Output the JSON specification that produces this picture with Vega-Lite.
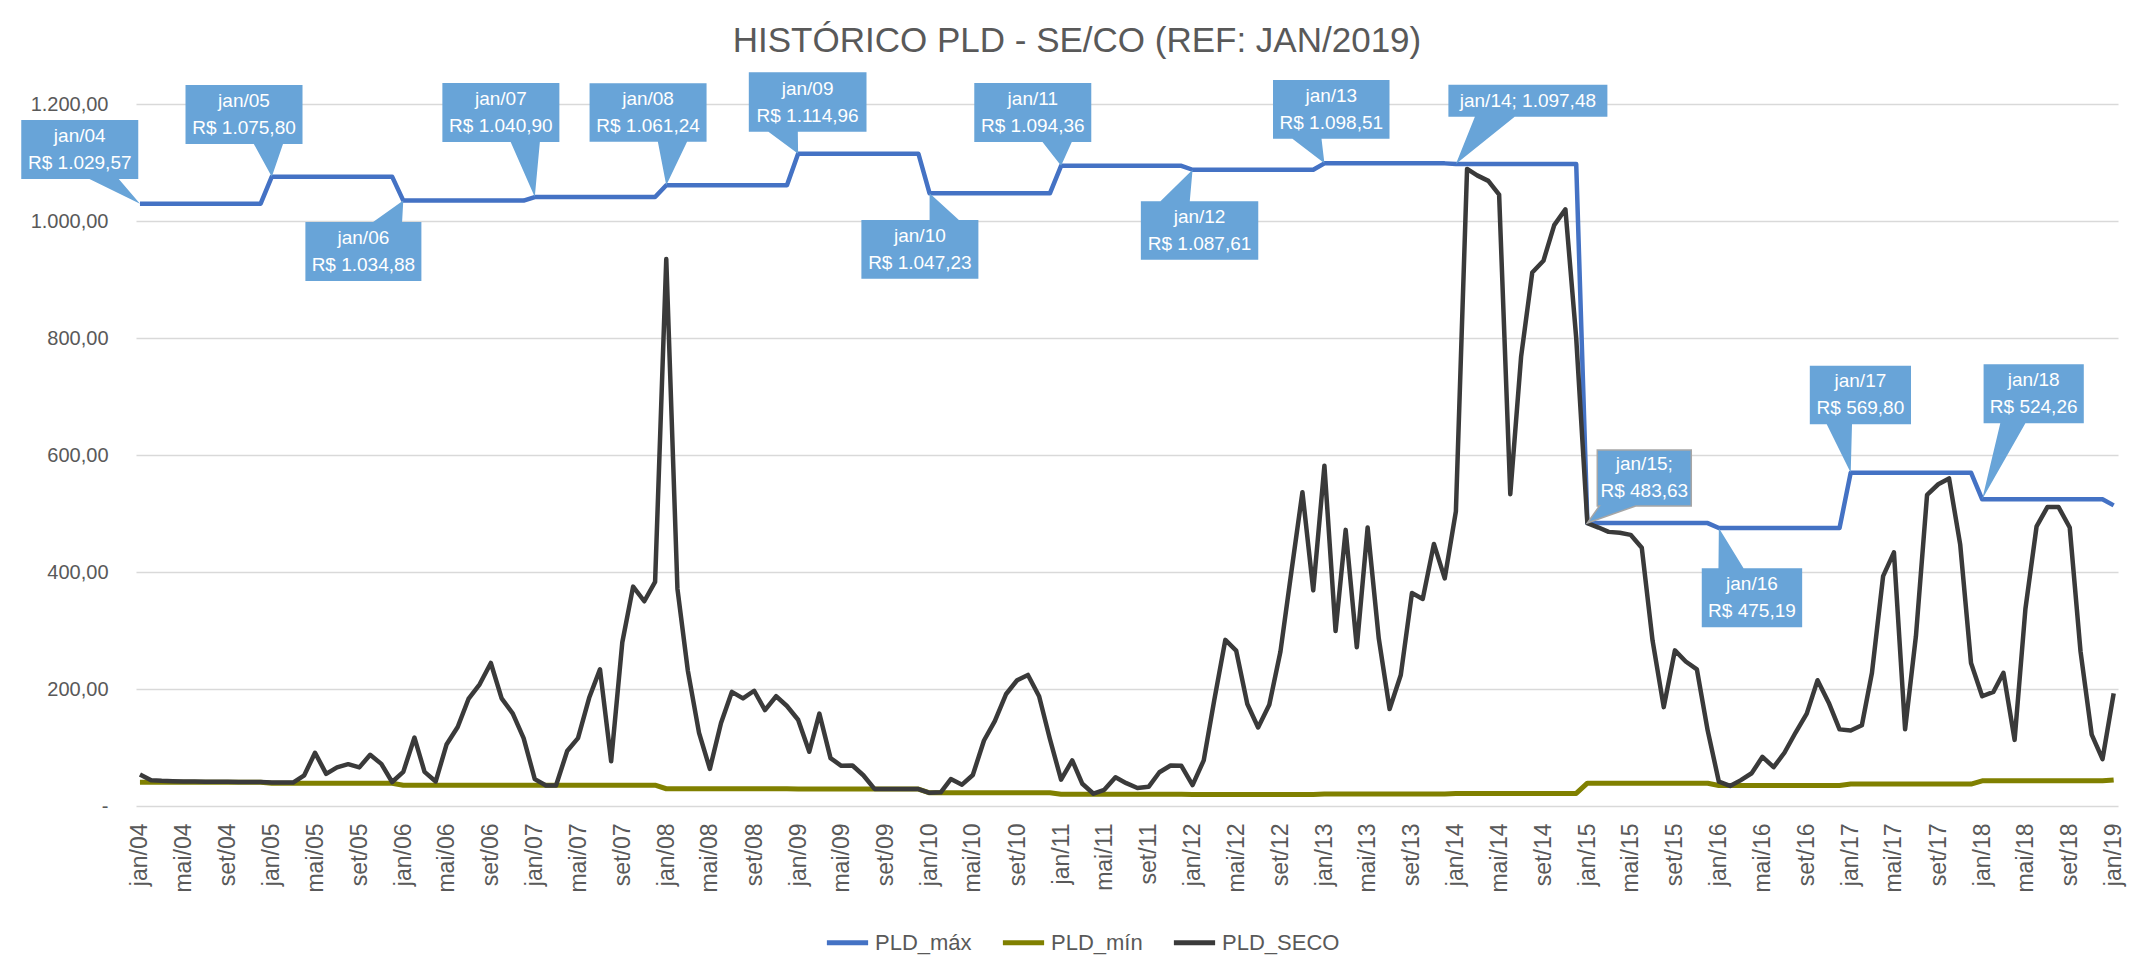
{
  "$schema": "https://vega.github.io/schema/vega-lite/v6.json",
  "width": 1982,
  "height": 702,
  "autosize": {"type": "none"},
  "padding": {"left": 136, "top": 104, "right": 13, "bottom": 158},
  "background": "white",
  "title": {"text": "HISTÓRICO PLD - SE/CO  (REF: JAN/2019)", "anchor": "middle", "frame": "group", "dx": -50, "offset": 10, "font": "Liberation Sans, Arial, sans-serif", "fontSize": 35, "fontWeight": "normal", "color": "#595959"},
  "config": {
    "view": {"stroke": null},
    "locale": {
      "number": {"decimal": ",", "thousands": ".", "grouping": [3], "currency": ["R$ ", ""]},
      "time": {
        "dateTime": "%A, %e de %B de %Y. %X",
        "date": "%d/%m/%Y",
        "time": "%H:%M:%S",
        "periods": ["AM", "PM"],
        "days": ["Domingo", "Segunda", "Terça", "Quarta", "Quinta", "Sexta", "Sábado"],
        "shortDays": ["Dom", "Seg", "Ter", "Qua", "Qui", "Sex", "Sáb"],
        "months": ["Janeiro", "Fevereiro", "Março", "Abril", "Maio", "Junho", "Julho", "Agosto", "Setembro", "Outubro", "Novembro", "Dezembro"],
        "shortMonths": ["jan", "fev", "mar", "abr", "mai", "jun", "jul", "ago", "set", "out", "nov", "dez"]
      }
    }
  },
  "datasets": {
    "max": [
      {"d":"2004/01/01","v":1029.57},{"d":"2004/02/01","v":1029.57},{"d":"2004/03/01","v":1029.57},{"d":"2004/04/01","v":1029.57},{"d":"2004/05/01","v":1029.57},{"d":"2004/06/01","v":1029.57},{"d":"2004/07/01","v":1029.57},{"d":"2004/08/01","v":1029.57},{"d":"2004/09/01","v":1029.57},{"d":"2004/10/01","v":1029.57},{"d":"2004/11/01","v":1029.57},{"d":"2004/12/01","v":1029.57},
      {"d":"2005/01/01","v":1075.8},{"d":"2005/02/01","v":1075.8},{"d":"2005/03/01","v":1075.8},{"d":"2005/04/01","v":1075.8},{"d":"2005/05/01","v":1075.8},{"d":"2005/06/01","v":1075.8},{"d":"2005/07/01","v":1075.8},{"d":"2005/08/01","v":1075.8},{"d":"2005/09/01","v":1075.8},{"d":"2005/10/01","v":1075.8},{"d":"2005/11/01","v":1075.8},{"d":"2005/12/01","v":1075.8},
      {"d":"2006/01/01","v":1034.88},{"d":"2006/02/01","v":1034.88},{"d":"2006/03/01","v":1034.88},{"d":"2006/04/01","v":1034.88},{"d":"2006/05/01","v":1034.88},{"d":"2006/06/01","v":1034.88},{"d":"2006/07/01","v":1034.88},{"d":"2006/08/01","v":1034.88},{"d":"2006/09/01","v":1034.88},{"d":"2006/10/01","v":1034.88},{"d":"2006/11/01","v":1034.88},{"d":"2006/12/01","v":1034.88},
      {"d":"2007/01/01","v":1040.9},{"d":"2007/02/01","v":1040.9},{"d":"2007/03/01","v":1040.9},{"d":"2007/04/01","v":1040.9},{"d":"2007/05/01","v":1040.9},{"d":"2007/06/01","v":1040.9},{"d":"2007/07/01","v":1040.9},{"d":"2007/08/01","v":1040.9},{"d":"2007/09/01","v":1040.9},{"d":"2007/10/01","v":1040.9},{"d":"2007/11/01","v":1040.9},{"d":"2007/12/01","v":1040.9},
      {"d":"2008/01/01","v":1061.24},{"d":"2008/02/01","v":1061.24},{"d":"2008/03/01","v":1061.24},{"d":"2008/04/01","v":1061.24},{"d":"2008/05/01","v":1061.24},{"d":"2008/06/01","v":1061.24},{"d":"2008/07/01","v":1061.24},{"d":"2008/08/01","v":1061.24},{"d":"2008/09/01","v":1061.24},{"d":"2008/10/01","v":1061.24},{"d":"2008/11/01","v":1061.24},{"d":"2008/12/01","v":1061.24},
      {"d":"2009/01/01","v":1114.96},{"d":"2009/02/01","v":1114.96},{"d":"2009/03/01","v":1114.96},{"d":"2009/04/01","v":1114.96},{"d":"2009/05/01","v":1114.96},{"d":"2009/06/01","v":1114.96},{"d":"2009/07/01","v":1114.96},{"d":"2009/08/01","v":1114.96},{"d":"2009/09/01","v":1114.96},{"d":"2009/10/01","v":1114.96},{"d":"2009/11/01","v":1114.96},{"d":"2009/12/01","v":1114.96},
      {"d":"2010/01/01","v":1047.23},{"d":"2010/02/01","v":1047.23},{"d":"2010/03/01","v":1047.23},{"d":"2010/04/01","v":1047.23},{"d":"2010/05/01","v":1047.23},{"d":"2010/06/01","v":1047.23},{"d":"2010/07/01","v":1047.23},{"d":"2010/08/01","v":1047.23},{"d":"2010/09/01","v":1047.23},{"d":"2010/10/01","v":1047.23},{"d":"2010/11/01","v":1047.23},{"d":"2010/12/01","v":1047.23},
      {"d":"2011/01/01","v":1094.36},{"d":"2011/02/01","v":1094.36},{"d":"2011/03/01","v":1094.36},{"d":"2011/04/01","v":1094.36},{"d":"2011/05/01","v":1094.36},{"d":"2011/06/01","v":1094.36},{"d":"2011/07/01","v":1094.36},{"d":"2011/08/01","v":1094.36},{"d":"2011/09/01","v":1094.36},{"d":"2011/10/01","v":1094.36},{"d":"2011/11/01","v":1094.36},{"d":"2011/12/01","v":1094.36},
      {"d":"2012/01/01","v":1087.61},{"d":"2012/02/01","v":1087.61},{"d":"2012/03/01","v":1087.61},{"d":"2012/04/01","v":1087.61},{"d":"2012/05/01","v":1087.61},{"d":"2012/06/01","v":1087.61},{"d":"2012/07/01","v":1087.61},{"d":"2012/08/01","v":1087.61},{"d":"2012/09/01","v":1087.61},{"d":"2012/10/01","v":1087.61},{"d":"2012/11/01","v":1087.61},{"d":"2012/12/01","v":1087.61},
      {"d":"2013/01/01","v":1098.51},{"d":"2013/02/01","v":1098.51},{"d":"2013/03/01","v":1098.51},{"d":"2013/04/01","v":1098.51},{"d":"2013/05/01","v":1098.51},{"d":"2013/06/01","v":1098.51},{"d":"2013/07/01","v":1098.51},{"d":"2013/08/01","v":1098.51},{"d":"2013/09/01","v":1098.51},{"d":"2013/10/01","v":1098.51},{"d":"2013/11/01","v":1098.51},{"d":"2013/12/01","v":1098.51},
      {"d":"2014/01/01","v":1097.48},{"d":"2014/02/01","v":1097.48},{"d":"2014/03/01","v":1097.48},{"d":"2014/04/01","v":1097.48},{"d":"2014/05/01","v":1097.48},{"d":"2014/06/01","v":1097.48},{"d":"2014/07/01","v":1097.48},{"d":"2014/08/01","v":1097.48},{"d":"2014/09/01","v":1097.48},{"d":"2014/10/01","v":1097.48},{"d":"2014/11/01","v":1097.48},{"d":"2014/12/01","v":1097.48},
      {"d":"2015/01/01","v":483.63},{"d":"2015/02/01","v":483.63},{"d":"2015/03/01","v":483.63},{"d":"2015/04/01","v":483.63},{"d":"2015/05/01","v":483.63},{"d":"2015/06/01","v":483.63},{"d":"2015/07/01","v":483.63},{"d":"2015/08/01","v":483.63},{"d":"2015/09/01","v":483.63},{"d":"2015/10/01","v":483.63},{"d":"2015/11/01","v":483.63},{"d":"2015/12/01","v":483.63},
      {"d":"2016/01/01","v":475.19},{"d":"2016/02/01","v":475.19},{"d":"2016/03/01","v":475.19},{"d":"2016/04/01","v":475.19},{"d":"2016/05/01","v":475.19},{"d":"2016/06/01","v":475.19},{"d":"2016/07/01","v":475.19},{"d":"2016/08/01","v":475.19},{"d":"2016/09/01","v":475.19},{"d":"2016/10/01","v":475.19},{"d":"2016/11/01","v":475.19},{"d":"2016/12/01","v":475.19},
      {"d":"2017/01/01","v":569.8},{"d":"2017/02/01","v":569.8},{"d":"2017/03/01","v":569.8},{"d":"2017/04/01","v":569.8},{"d":"2017/05/01","v":569.8},{"d":"2017/06/01","v":569.8},{"d":"2017/07/01","v":569.8},{"d":"2017/08/01","v":569.8},{"d":"2017/09/01","v":569.8},{"d":"2017/10/01","v":569.8},{"d":"2017/11/01","v":569.8},{"d":"2017/12/01","v":569.8},
      {"d":"2018/01/01","v":524.26},{"d":"2018/02/01","v":524.26},{"d":"2018/03/01","v":524.26},{"d":"2018/04/01","v":524.26},{"d":"2018/05/01","v":524.26},{"d":"2018/06/01","v":524.26},{"d":"2018/07/01","v":524.26},{"d":"2018/08/01","v":524.26},{"d":"2018/09/01","v":524.26},{"d":"2018/10/01","v":524.26},{"d":"2018/11/01","v":524.26},{"d":"2018/12/01","v":524.26},
      {"d":"2019/01/01","v":513.89}
    ],
    "min": [
      {"d":"2004/01/01","v":40.5},{"d":"2004/02/01","v":40.5},{"d":"2004/03/01","v":40.5},{"d":"2004/04/01","v":40.5},{"d":"2004/05/01","v":40.5},{"d":"2004/06/01","v":40.5},{"d":"2004/07/01","v":40.5},{"d":"2004/08/01","v":40.5},{"d":"2004/09/01","v":40.5},{"d":"2004/10/01","v":40.5},{"d":"2004/11/01","v":40.5},{"d":"2004/12/01","v":40.5},
      {"d":"2005/01/01","v":39},{"d":"2005/02/01","v":39},{"d":"2005/03/01","v":39},{"d":"2005/04/01","v":39},{"d":"2005/05/01","v":39},{"d":"2005/06/01","v":39},{"d":"2005/07/01","v":39},{"d":"2005/08/01","v":39},{"d":"2005/09/01","v":39},{"d":"2005/10/01","v":39},{"d":"2005/11/01","v":39},{"d":"2005/12/01","v":39},
      {"d":"2006/01/01","v":35.5},{"d":"2006/02/01","v":35.5},{"d":"2006/03/01","v":35.5},{"d":"2006/04/01","v":35.5},{"d":"2006/05/01","v":35.5},{"d":"2006/06/01","v":35.5},{"d":"2006/07/01","v":35.5},{"d":"2006/08/01","v":35.5},{"d":"2006/09/01","v":35.5},{"d":"2006/10/01","v":35.5},{"d":"2006/11/01","v":35.5},{"d":"2006/12/01","v":35.5},
      {"d":"2007/01/01","v":35.5},{"d":"2007/02/01","v":35.5},{"d":"2007/03/01","v":35.5},{"d":"2007/04/01","v":35.5},{"d":"2007/05/01","v":35.5},{"d":"2007/06/01","v":35.5},{"d":"2007/07/01","v":35.5},{"d":"2007/08/01","v":35.5},{"d":"2007/09/01","v":35.5},{"d":"2007/10/01","v":35.5},{"d":"2007/11/01","v":35.5},{"d":"2007/12/01","v":35.5},
      {"d":"2008/01/01","v":29.5},{"d":"2008/02/01","v":29.5},{"d":"2008/03/01","v":29.5},{"d":"2008/04/01","v":29.5},{"d":"2008/05/01","v":29.5},{"d":"2008/06/01","v":29.5},{"d":"2008/07/01","v":29.5},{"d":"2008/08/01","v":29.5},{"d":"2008/09/01","v":29.5},{"d":"2008/10/01","v":29.5},{"d":"2008/11/01","v":29.5},{"d":"2008/12/01","v":29.5},
      {"d":"2009/01/01","v":29},{"d":"2009/02/01","v":29},{"d":"2009/03/01","v":29},{"d":"2009/04/01","v":29},{"d":"2009/05/01","v":29},{"d":"2009/06/01","v":29},{"d":"2009/07/01","v":29},{"d":"2009/08/01","v":29},{"d":"2009/09/01","v":29},{"d":"2009/10/01","v":29},{"d":"2009/11/01","v":29},{"d":"2009/12/01","v":29},
      {"d":"2010/01/01","v":22.5},{"d":"2010/02/01","v":22.5},{"d":"2010/03/01","v":22.5},{"d":"2010/04/01","v":22.5},{"d":"2010/05/01","v":22.5},{"d":"2010/06/01","v":22.5},{"d":"2010/07/01","v":22.5},{"d":"2010/08/01","v":22.5},{"d":"2010/09/01","v":22.5},{"d":"2010/10/01","v":22.5},{"d":"2010/11/01","v":22.5},{"d":"2010/12/01","v":22.5},
      {"d":"2011/01/01","v":20},{"d":"2011/02/01","v":20},{"d":"2011/03/01","v":20},{"d":"2011/04/01","v":20},{"d":"2011/05/01","v":20},{"d":"2011/06/01","v":20},{"d":"2011/07/01","v":20},{"d":"2011/08/01","v":20},{"d":"2011/09/01","v":20},{"d":"2011/10/01","v":20},{"d":"2011/11/01","v":20},{"d":"2011/12/01","v":20},
      {"d":"2012/01/01","v":19.5},{"d":"2012/02/01","v":19.5},{"d":"2012/03/01","v":19.5},{"d":"2012/04/01","v":19.5},{"d":"2012/05/01","v":19.5},{"d":"2012/06/01","v":19.5},{"d":"2012/07/01","v":19.5},{"d":"2012/08/01","v":19.5},{"d":"2012/09/01","v":19.5},{"d":"2012/10/01","v":19.5},{"d":"2012/11/01","v":19.5},{"d":"2012/12/01","v":19.5},
      {"d":"2013/01/01","v":20.5},{"d":"2013/02/01","v":20.5},{"d":"2013/03/01","v":20.5},{"d":"2013/04/01","v":20.5},{"d":"2013/05/01","v":20.5},{"d":"2013/06/01","v":20.5},{"d":"2013/07/01","v":20.5},{"d":"2013/08/01","v":20.5},{"d":"2013/09/01","v":20.5},{"d":"2013/10/01","v":20.5},{"d":"2013/11/01","v":20.5},{"d":"2013/12/01","v":20.5},
      {"d":"2014/01/01","v":21.5},{"d":"2014/02/01","v":21.5},{"d":"2014/03/01","v":21.5},{"d":"2014/04/01","v":21.5},{"d":"2014/05/01","v":21.5},{"d":"2014/06/01","v":21.5},{"d":"2014/07/01","v":21.5},{"d":"2014/08/01","v":21.5},{"d":"2014/09/01","v":21.5},{"d":"2014/10/01","v":21.5},{"d":"2014/11/01","v":21.5},{"d":"2014/12/01","v":21.5},
      {"d":"2015/01/01","v":39},{"d":"2015/02/01","v":39},{"d":"2015/03/01","v":39},{"d":"2015/04/01","v":39},{"d":"2015/05/01","v":39},{"d":"2015/06/01","v":39},{"d":"2015/07/01","v":39},{"d":"2015/08/01","v":39},{"d":"2015/09/01","v":39},{"d":"2015/10/01","v":39},{"d":"2015/11/01","v":39},{"d":"2015/12/01","v":39},
      {"d":"2016/01/01","v":35},{"d":"2016/02/01","v":35},{"d":"2016/03/01","v":35},{"d":"2016/04/01","v":35},{"d":"2016/05/01","v":35},{"d":"2016/06/01","v":35},{"d":"2016/07/01","v":35},{"d":"2016/08/01","v":35},{"d":"2016/09/01","v":35},{"d":"2016/10/01","v":35},{"d":"2016/11/01","v":35},{"d":"2016/12/01","v":35},
      {"d":"2017/01/01","v":37.5},{"d":"2017/02/01","v":37.5},{"d":"2017/03/01","v":37.5},{"d":"2017/04/01","v":37.5},{"d":"2017/05/01","v":37.5},{"d":"2017/06/01","v":37.5},{"d":"2017/07/01","v":37.5},{"d":"2017/08/01","v":37.5},{"d":"2017/09/01","v":37.5},{"d":"2017/10/01","v":37.5},{"d":"2017/11/01","v":37.5},{"d":"2017/12/01","v":37.5},
      {"d":"2018/01/01","v":43},{"d":"2018/02/01","v":43},{"d":"2018/03/01","v":43},{"d":"2018/04/01","v":43},{"d":"2018/05/01","v":43},{"d":"2018/06/01","v":43},{"d":"2018/07/01","v":43},{"d":"2018/08/01","v":43},{"d":"2018/09/01","v":43},{"d":"2018/10/01","v":43},{"d":"2018/11/01","v":43},{"d":"2018/12/01","v":43},
      {"d":"2019/01/01","v":44.5}
    ],
    "seco": [
      {"d":"2004/01/01","v":54},{"d":"2004/02/01","v":44},{"d":"2004/03/01","v":43},{"d":"2004/04/01","v":42.5},{"d":"2004/05/01","v":42},{"d":"2004/06/01","v":42},{"d":"2004/07/01","v":41.5},{"d":"2004/08/01","v":41.5},{"d":"2004/09/01","v":41.5},{"d":"2004/10/01","v":41},{"d":"2004/11/01","v":41},{"d":"2004/12/01","v":41},
      {"d":"2005/01/01","v":40},{"d":"2005/02/01","v":40},{"d":"2005/03/01","v":40},{"d":"2005/04/01","v":52.5},{"d":"2005/05/01","v":91},{"d":"2005/06/01","v":55},{"d":"2005/07/01","v":66},{"d":"2005/08/01","v":71.5},{"d":"2005/09/01","v":66},{"d":"2005/10/01","v":87.6},{"d":"2005/11/01","v":72},{"d":"2005/12/01","v":41},
      {"d":"2006/01/01","v":58.4},{"d":"2006/02/01","v":117},{"d":"2006/03/01","v":58.4},{"d":"2006/04/01","v":42},{"d":"2006/05/01","v":105},{"d":"2006/06/01","v":135},{"d":"2006/07/01","v":183},{"d":"2006/08/01","v":208},{"d":"2006/09/01","v":244.5},{"d":"2006/10/01","v":184},{"d":"2006/11/01","v":158},{"d":"2006/12/01","v":116},
      {"d":"2007/01/01","v":46},{"d":"2007/02/01","v":35},{"d":"2007/03/01","v":35},{"d":"2007/04/01","v":94},{"d":"2007/05/01","v":116},{"d":"2007/06/01","v":185},{"d":"2007/07/01","v":233.6},{"d":"2007/08/01","v":76.6},{"d":"2007/09/01","v":280},{"d":"2007/10/01","v":375},{"d":"2007/11/01","v":350},{"d":"2007/12/01","v":383},
      {"d":"2008/01/01","v":935},{"d":"2008/02/01","v":371.5},{"d":"2008/03/01","v":231},{"d":"2008/04/01","v":125},{"d":"2008/05/01","v":63.5},{"d":"2008/06/01","v":142},{"d":"2008/07/01","v":195},{"d":"2008/08/01","v":184},{"d":"2008/09/01","v":197},{"d":"2008/10/01","v":164},{"d":"2008/11/01","v":187.6},{"d":"2008/12/01","v":171},
      {"d":"2009/01/01","v":147.5},{"d":"2009/02/01","v":92.7},{"d":"2009/03/01","v":158},{"d":"2009/04/01","v":81.8},{"d":"2009/05/01","v":68.6},{"d":"2009/06/01","v":69.3},{"d":"2009/07/01","v":52.6},{"d":"2009/08/01","v":29.2},{"d":"2009/09/01","v":29.2},{"d":"2009/10/01","v":29},{"d":"2009/11/01","v":29},{"d":"2009/12/01","v":29},
      {"d":"2010/01/01","v":22.6},{"d":"2010/02/01","v":23.4},{"d":"2010/03/01","v":46},{"d":"2010/04/01","v":36.5},{"d":"2010/05/01","v":53},{"d":"2010/06/01","v":112},{"d":"2010/07/01","v":145},{"d":"2010/08/01","v":191},{"d":"2010/09/01","v":215},{"d":"2010/10/01","v":224},{"d":"2010/11/01","v":187.6},{"d":"2010/12/01","v":114.6},
      {"d":"2011/01/01","v":45},{"d":"2011/02/01","v":78},{"d":"2011/03/01","v":38},{"d":"2011/04/01","v":21},{"d":"2011/05/01","v":27.7},{"d":"2011/06/01","v":49},{"d":"2011/07/01","v":39},{"d":"2011/08/01","v":30.7},{"d":"2011/09/01","v":32.8},{"d":"2011/10/01","v":57.7},{"d":"2011/11/01","v":69.3},{"d":"2011/12/01","v":68.6},
      {"d":"2012/01/01","v":35.8},{"d":"2012/02/01","v":78},{"d":"2012/03/01","v":180},{"d":"2012/04/01","v":284},{"d":"2012/05/01","v":265.7},{"d":"2012/06/01","v":174.4},{"d":"2012/07/01","v":134.3},{"d":"2012/08/01","v":173},{"d":"2012/09/01","v":264},{"d":"2012/10/01","v":399},{"d":"2012/11/01","v":536.5},{"d":"2012/12/01","v":368.6},
      {"d":"2013/01/01","v":581.7},{"d":"2013/02/01","v":299},{"d":"2013/03/01","v":472},{"d":"2013/04/01","v":271.5},{"d":"2013/05/01","v":476},{"d":"2013/06/01","v":286},{"d":"2013/07/01","v":165.7},{"d":"2013/08/01","v":224},{"d":"2013/09/01","v":364},{"d":"2013/10/01","v":354},{"d":"2013/11/01","v":448},{"d":"2013/12/01","v":389},
      {"d":"2014/01/01","v":503.6},{"d":"2014/02/01","v":1089},{"d":"2014/03/01","v":1078},{"d":"2014/04/01","v":1068.6},{"d":"2014/05/01","v":1045},{"d":"2014/06/01","v":533},{"d":"2014/07/01","v":768},{"d":"2014/08/01","v":912},{"d":"2014/09/01","v":932},{"d":"2014/10/01","v":993},{"d":"2014/11/01","v":1020},{"d":"2014/12/01","v":800},
      {"d":"2015/01/01","v":483.63},{"d":"2015/02/01","v":476},{"d":"2015/03/01","v":468.6},{"d":"2015/04/01","v":467},{"d":"2015/05/01","v":463.5},{"d":"2015/06/01","v":441.6},{"d":"2015/07/01","v":282.5},{"d":"2015/08/01","v":169},{"d":"2015/09/01","v":266},{"d":"2015/10/01","v":247},{"d":"2015/11/01","v":233.6},{"d":"2015/12/01","v":129},
      {"d":"2016/01/01","v":41.6},{"d":"2016/02/01","v":34.3},{"d":"2016/03/01","v":43.8},{"d":"2016/04/01","v":56},{"d":"2016/05/01","v":84},{"d":"2016/06/01","v":66.4},{"d":"2016/07/01","v":91},{"d":"2016/08/01","v":125.6},{"d":"2016/09/01","v":158},{"d":"2016/10/01","v":215},{"d":"2016/11/01","v":176.6},{"d":"2016/12/01","v":131},
      {"d":"2017/01/01","v":129},{"d":"2017/02/01","v":138},{"d":"2017/03/01","v":227.7},{"d":"2017/04/01","v":393},{"d":"2017/05/01","v":433.6},{"d":"2017/06/01","v":131},{"d":"2017/07/01","v":290},{"d":"2017/08/01","v":532},{"d":"2017/09/01","v":550},{"d":"2017/10/01","v":560},{"d":"2017/11/01","v":446.7},{"d":"2017/12/01","v":244.5},
      {"d":"2018/01/01","v":187.6},{"d":"2018/02/01","v":195},{"d":"2018/03/01","v":227.7},{"d":"2018/04/01","v":113},{"d":"2018/05/01","v":337},{"d":"2018/06/01","v":478},{"d":"2018/07/01","v":511},{"d":"2018/08/01","v":511},{"d":"2018/09/01","v":476},{"d":"2018/10/01","v":264},{"d":"2018/11/01","v":122},{"d":"2018/12/01","v":80},
      {"d":"2019/01/01","v":192.7}
    ],
    "callouts": [
      {"id":"jan/04","d":"2004/01/01","v":1029.57,"label":"jan/04\nR$ 1.029,57"},
      {"id":"jan/05","d":"2005/01/01","v":1075.8,"label":"jan/05\nR$ 1.075,80"},
      {"id":"jan/06","d":"2006/01/01","v":1034.88,"label":"jan/06\nR$ 1.034,88"},
      {"id":"jan/07","d":"2007/01/01","v":1040.9,"label":"jan/07\nR$ 1.040,90"},
      {"id":"jan/08","d":"2008/01/01","v":1061.24,"label":"jan/08\nR$ 1.061,24"},
      {"id":"jan/09","d":"2009/01/01","v":1114.96,"label":"jan/09\nR$ 1.114,96"},
      {"id":"jan/10","d":"2010/01/01","v":1047.23,"label":"jan/10\nR$ 1.047,23"},
      {"id":"jan/11","d":"2011/01/01","v":1094.36,"label":"jan/11\nR$ 1.094,36"},
      {"id":"jan/12","d":"2012/01/01","v":1087.61,"label":"jan/12\nR$ 1.087,61"},
      {"id":"jan/13","d":"2013/01/01","v":1098.51,"label":"jan/13\nR$ 1.098,51"},
      {"id":"jan/14","d":"2014/01/01","v":1097.48,"label":"jan/14;  1.097,48"},
      {"id":"jan/15","d":"2015/01/01","v":483.63,"label":"jan/15;\nR$ 483,63"},
      {"id":"jan/16","d":"2016/01/01","v":475.19,"label":"jan/16\nR$ 475,19"},
      {"id":"jan/17","d":"2017/01/01","v":569.8,"label":"jan/17\nR$ 569,80"},
      {"id":"jan/18","d":"2018/01/01","v":524.26,"label":"jan/18\nR$ 524,26"}
    ]
  },
  "encoding": {
    "x": {
      "field": "d", "type": "temporal",
      "scale": {"domain": [{"year": 2003, "month": 12, "date": 21}, {"year": 2019, "month": 1, "date": 13}]},
      "axis": {"title": null, "grid": false, "domain": false, "ticks": false, "tickCount": {"interval": "month", "step": 4}, "format": "%b/%y", "labelAngle": -90, "labelFont": "Liberation Sans, Arial, sans-serif", "labelFontSize": 23, "labelColor": "#595959", "labelPadding": 17, "labelOverlap": false, "labelFlush": false}
    },
    "y": {
      "field": "v", "type": "quantitative",
      "scale": {"domain": [0, 1200], "nice": false},
      "axis": {"title": null, "values": [0, 200, 400, 600, 800, 1000, 1200], "format": ",.2f", "labelExpr": "datum.value == 0 ? '-\u00a0\u00a0\u00a0' : datum.label", "domain": false, "ticks": false, "gridColor": "#D9D9D9", "gridWidth": 1.5, "labelFont": "Liberation Sans, Arial, sans-serif", "labelFontSize": 20, "labelColor": "#595959", "labelPadding": 28}
    }
  },
  "layer": [
    {
      "data": {"name": "max"},
      "mark": {"type": "line", "strokeWidth": 4.5, "strokeJoin": "round"},
      "encoding": {
        "color": {
          "datum": "PLD_máx", "type": "nominal",
          "scale": {"domain": ["PLD_máx", "PLD_mín", "PLD_SECO"], "range": ["#4472C4", "#808000", "#3A3A3A"]},
          "legend": {"title": null, "orient": "none", "legendX": 688, "legendY": 815, "direction": "horizontal", "symbolType": "stroke", "symbolStrokeWidth": 5, "symbolSize": 1700, "labelFont": "Liberation Sans, Arial, sans-serif", "labelFontSize": 22, "labelColor": "#595959", "labelOffset": 4, "columnPadding": 20}
        }
      }
    },
    {
      "data": {"name": "min"},
      "mark": {"type": "line", "strokeWidth": 5, "strokeJoin": "round"},
      "encoding": {"color": {"datum": "PLD_mín", "type": "nominal"}}
    },
    {
      "data": {"name": "seco"},
      "mark": {"type": "line", "strokeWidth": 4.5, "strokeJoin": "round"},
      "encoding": {"color": {"datum": "PLD_SECO", "type": "nominal"}}
    },
    {
      "data": {"name": "callouts"},
      "mark": {"type": "point", "filled": true, "opacity": 1, "size": 40000, "fill": "#68A4D8", "strokeWidth": 1.5},
      "encoding": {
        "shape": {
          "field": "id", "type": "nominal", "legend": null,
          "scale": {
            "domain": ["jan/04","jan/05","jan/06","jan/07","jan/08","jan/09","jan/10","jan/11","jan/12","jan/13","jan/14","jan/15","jan/16","jan/17","jan/18"],
            "range": [
              "M-1.187,-0.837L-0.017,-0.837L-0.017,-0.247L-0.212,-0.247L0,0L-0.505,-0.247L-1.187,-0.247Z",
              "M-0.863,-0.917L0.307,-0.917L0.307,-0.327L0.112,-0.327L0,0L-0.18,-0.327L-0.863,-0.327Z",
              "M-0.979,0.214L-0.302,0.214L0,0L-0.012,0.214L0.181,0.214L0.181,0.804L-0.979,0.804Z",
              "M-0.924,-1.141L0.246,-1.141L0.246,-0.551L0.051,-0.551L0,0L-0.241,-0.551L-0.924,-0.551Z",
              "M-0.767,-1.019L0.403,-1.019L0.403,-0.435L0.208,-0.435L0,0L-0.084,-0.435L-0.767,-0.435Z",
              "M-0.493,-0.814L0.684,-0.814L0.684,-0.22L-0.003,-0.22L0,0L-0.297,-0.22L-0.493,-0.22Z",
              "M-0.682,0.266L0,0.266L0,0L0.293,0.266L0.488,0.266L0.488,0.853L-0.682,0.853Z",
              "M-0.868,-0.828L0.302,-0.828L0.302,-0.238L0.107,-0.238L0,0L-0.186,-0.238L-0.868,-0.238Z",
              "M-0.517,0.316L-0.321,0.316L0,0L-0.028,0.316L0.657,0.316L0.657,0.9L-0.517,0.9Z",
              "M-0.514,-0.834L0.651,-0.834L0.651,-0.247L-0.029,-0.247L0,0L-0.32,-0.247L-0.514,-0.247Z",
              "M-0.075,-0.793L1.515,-0.793L1.515,-0.473L0.588,-0.473L0,0L0.19,-0.473L-0.075,-0.473Z",
              "M0.099,-0.731L1.039,-0.731L1.039,-0.171L0.483,-0.171L0,0L0.12,-0.171L0.099,-0.171Z",
              "M-0.171,0.403L-0.004,0.403L0,0L0.247,0.403L0.833,0.403L0.833,0.993L-0.171,0.993Z",
              "M-0.409,-1.07L0.603,-1.07L0.603,-0.484L0.013,-0.484L0,0L-0.24,-0.484L-0.409,-0.484Z",
              "M0.014,-1.35L1.016,-1.35L1.016,-0.76L0.432,-0.76L0,0L0.181,-0.76L0.014,-0.76Z"
            ]
          }
        },
        "stroke": {"condition": {"test": "datum.id == 'jan/15'", "value": "#A6A6A6"}, "value": "transparent"}
      }
    },
    {
      "data": {"name": "callouts"},
      "mark": {
        "type": "text", "align": "center", "baseline": "middle", "lineBreak": "\n", "lineHeight": 27,
        "font": "Liberation Sans, Arial, sans-serif", "fontSize": 19, "color": "white",
        "dx": {"expr": "[-60.2,-27.8,-39.9,-33.9,-18.2,9.5,-9.7,-28.3,7,6.9,72,56.9,33.1,9.7,51.5][year(datum.d)-2004]"},
        "dy": {"expr": "[-67.7,-75.7,37.4,-98.1,-86.2,-65.2,42.5,-66.8,47.3,-67.5,-63.3,-58.6,56.3,-91.2,-119][year(datum.d)-2004]"}
      },
      "encoding": {"text": {"field": "label", "type": "nominal"}}
    }
  ]
}
